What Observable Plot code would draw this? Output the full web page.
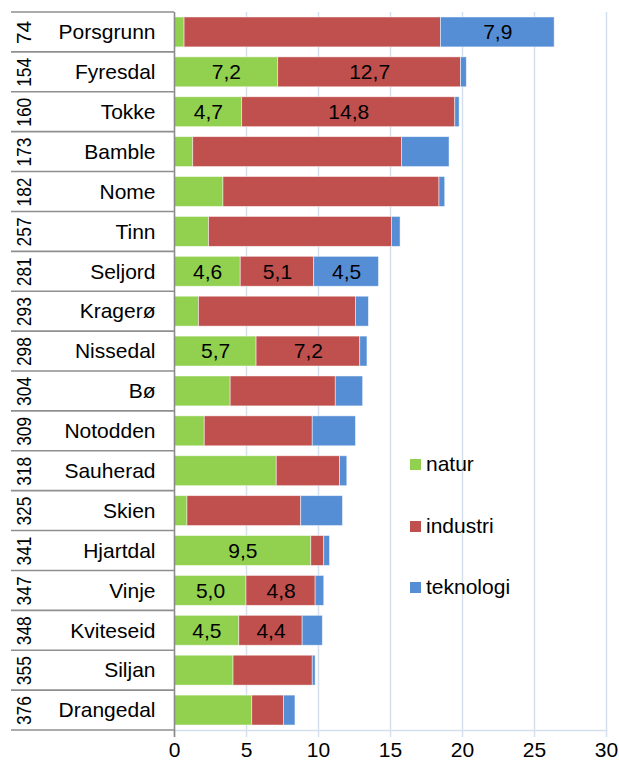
<!DOCTYPE html>
<html>
<head>
<meta charset="utf-8">
<script src="https://cdn.jsdelivr.net/npm/d3@7"></script>
<script src="https://cdn.jsdelivr.net/npm/@observablehq/plot@0.6"></script>
<style>
  html, body { margin: 0; padding: 0; background: #fff; }
  #wrap { position: relative; width: 619px; height: 764px; font-family: "Liberation Sans", Arial, sans-serif; }
  .legend { position: absolute; left: 410px; font-size: 21px; color: #000; }
  .legend .item { position: absolute; left: 0; display: flex; align-items: center; white-space: nowrap; }
  .legend .sw { width: 11px; height: 11px; margin-right: 5px; }
</style>
</head>
<body>
<div id="wrap"></div>
<script>
const names = ["Porsgrunn","Fyresdal","Tokke","Bamble","Nome","Tinn","Seljord","Kragerø","Nissedal","Bø","Notodden","Sauherad","Skien","Hjartdal","Vinje","Kviteseid","Siljan","Drangedal"];
const ranks = ["74","154","160","173","182","257","281","293","298","304","309","318","325","341","347","348","355","376"];
const natur     = [0.7, 7.2, 4.7, 1.3, 3.4, 2.4, 4.6, 1.7, 5.7, 3.9, 2.1, 7.1, 0.9, 9.5, 5.0, 4.5, 4.1, 5.4];
const industri  = [17.8, 12.7, 14.8, 14.5, 15.0, 12.7, 5.1, 10.9, 7.2, 7.3, 7.5, 4.4, 7.9, 0.9, 4.8, 4.4, 5.5, 2.2];
const teknologi = [7.9, 0.4, 0.3, 3.3, 0.4, 0.6, 4.5, 0.9, 0.5, 1.9, 3.0, 0.5, 2.9, 0.4, 0.6, 1.4, 0.2, 0.8];
const showNatur     = [0,1,1,0,0,0,1,0,1,0,0,0,0,1,1,1,0,0];
const showIndustri  = [0,1,1,0,0,0,1,0,1,0,0,0,0,0,1,1,0,0];
const showTeknologi = [1,0,0,0,0,0,1,0,0,0,0,0,0,0,0,0,0,0];
const series = ["natur","industri","teknologi"];
const colors = ["#92D050","#C0504D","#558ED5"];
const xTicks = [0,5,10,15,20,25,30];

const vals = {natur, industri, teknologi};
const shows = {natur: showNatur, industri: showIndustri, teknologi: showTeknologi};
const data = names.flatMap((n, i) => series.map(s => ({name: n, serie: s, value: vals[s][i], show: !!shows[s][i]})));
const rankData = names.map((n, i) => ({name: n, rank: ranks[i]}));
const fmt = v => v.toFixed(1).replace(".", ",");

const chart = Plot.plot({
  width: 619, height: 764,
  marginLeft: 174, marginRight: 13, marginTop: 12, marginBottom: 34,
  style: {fontFamily: "Liberation Sans, Arial, sans-serif", fontSize: "21px", color: "#000", background: "#fff"},
  x: {domain: [0, 30], label: null},
  y: {domain: names, paddingInner: 0.25, paddingOuter: 0.125, round: false, label: null},
  color: {domain: series, range: colors},
  marks: [
    Plot.gridX(xTicks.slice(1), {stroke: "#d5e0ee", strokeOpacity: 1, strokeWidth: 1.5}),
    Plot.barX(data, Plot.stackX({x: "value", y: "name", fill: "serie", order: series, stroke: "#fff", strokeWidth: 0.8, strokeOpacity: 0.6})),
    Plot.text(data, Plot.stackX({x: "value", y: "name", z: "serie", order: series, text: d => d.show ? fmt(d.value) : null, fill: "#000", fontSize: 21})),
    Plot.frame({anchor: "bottom", stroke: "#d5e0ee", strokeWidth: 1.5}),
    Plot.axisX(xTicks, {tickSize: 7, tickPadding: 5, stroke: "#d5e0ee", strokeWidth: 1.5, fill: "#000", fontSize: 21, label: null}),
    Plot.ruleX([0], {stroke: "#8a8a8a", strokeWidth: 1.6, insetBottom: -7}),
    Plot.axisY({tickSize: 0, tickPadding: 19, fontSize: 21, label: null, fill: "#000"}),
    Plot.text(rankData, {y: "name", text: "rank", frameAnchor: "left", textAnchor: "middle", lineAnchor: "middle", dx: -150, rotate: -90, fontSize: 21, fill: "#000", className: "rank"})
  ]
});

const svg = d3.select(chart);
// compress three-digit rank numbers to fit the row
svg.selectAll(".rank text").each(function() {
  const t = d3.select(this);
  if (t.text().length >= 3) t.attr("textLength", 29).attr("lengthAdjust", "spacingAndGlyphs");
});
// table separators built from the y scale
const ys = chart.scale("y");
const edges = [];
names.forEach((n, i) => {
  const c = ys.apply(n) + ys.bandwidth / 2;
  if (i === 0) edges.push(c - ys.step / 2);
  edges.push(c + ys.step / 2);
});
const xs = chart.scale("x");
const x0 = xs.apply(0);
svg.append("g").selectAll("line").data(edges).join("line")
  .attr("x1", 11).attr("x2", x0).attr("y1", d => d).attr("y2", d => d)
  .attr("stroke", "#8f8f8f").attr("stroke-width", 1.6);

const wrap = document.getElementById("wrap");
wrap.appendChild(chart);

// legend
const legend = document.createElement("div");
legend.className = "legend";
legend.style.top = "0px";
const legendTops = [452, 514, 575];
series.forEach((s, i) => {
  const it = document.createElement("div");
  it.className = "item";
  it.style.top = legendTops[i] + "px";
  it.innerHTML = `<span class="sw" style="background:${colors[i]}"></span><span>${s}</span>`;
  legend.appendChild(it);
});
wrap.appendChild(legend);
</script>
</body>
</html>
